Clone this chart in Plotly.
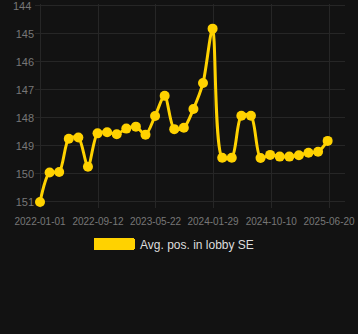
import plotly.graph_objects as go

dates = ["2022-01-01", "2022-02-12", "2022-03-26", "2022-05-07", "2022-06-18", "2022-07-30",
         "2022-09-10", "2022-10-22", "2022-12-03", "2023-01-14", "2023-02-25", "2023-04-08",
         "2023-05-20", "2023-07-01", "2023-08-12", "2023-09-23", "2023-11-04", "2023-12-16",
         "2024-01-27", "2024-03-09", "2024-04-20", "2024-06-01", "2024-07-13", "2024-08-24",
         "2024-10-05", "2024-11-16", "2024-12-28", "2025-02-08", "2025-03-22", "2025-05-03",
         "2025-06-14"]
positions = [151.0, 149.95, 149.93, 148.74, 148.7, 149.74, 148.55, 148.51, 148.58, 148.38,
             148.31, 148.6, 147.93, 147.21, 148.4, 148.35, 147.68, 146.75, 144.81, 149.42,
             149.42, 147.92, 147.92, 149.43, 149.32, 149.38, 149.38, 149.33, 149.24, 149.21,
             148.82]
x_ticks = ["2022-01-01", "2022-09-12", "2023-05-22", "2024-01-29", "2024-10-10", "2025-06-20"]
y_ticks = [144, 145, 146, 147, 148, 149, 150, 151]
series_name = "Avg. pos. in lobby SE"

color = "#FFD200"
W, H = 358, 334
ml, mr, mt, mb = 35, 13, 4, 126
pw, ph = W - ml - mr, H - mt - mb


def px_x(p):
    return (p - ml) / pw


def px_y(p):
    return (H - mb - p) / ph


fig = go.Figure()
fig.add_trace(go.Scatter(
    x=dates, y=positions, mode="lines+markers", showlegend=False,
    line=dict(color=color, width=3, shape="spline", smoothing=0.8),
    marker=dict(color=color, size=10),
))
fig.add_trace(go.Scatter(
    x=[None], y=[None], mode="lines", name=series_name,
    line=dict(color=color, width=12),
))

# widen the legend swatch to match the reference's rectangle
fig.add_shape(type="rect", xref="paper", yref="paper",
              x0=px_x(94), x1=px_x(134), y0=px_y(250), y1=px_y(238),
              fillcolor=color, line=dict(width=0), layer="above")

# top tick label sits at the very edge of the page, where plotly would hide it
fig.add_annotation(text=str(y_ticks[0]), xref="paper", x=0, yref="y", y=y_ticks[0],
                   xanchor="right", yanchor="middle", xshift=-2, showarrow=False,
                   font=dict(size=11, color="#777777"))

fig.update_layout(
    width=W, height=H,
    paper_bgcolor="#121212", plot_bgcolor="#121212",
    margin=dict(l=ml, r=mr, t=mt, b=mb),
    font=dict(family="Arial, Liberation Sans, sans-serif", color="#777777", size=11),
    xaxis=dict(
        type="date", range=["2021-12-10", "2025-08-29"],
        tickvals=x_ticks, ticktext=x_ticks, automargin=False,
        showgrid=True, gridcolor="#262626", gridwidth=1,
        zeroline=False, showline=False,
        ticks="outside", ticklen=4, tickcolor="rgba(0,0,0,0)",
        tickfont=dict(size=10, color="#777777"),
    ),
    yaxis=dict(
        range=[151.216, 143.93], tickvals=y_ticks, automargin=False,
        showgrid=True, gridcolor="#262626", gridwidth=1,
        zeroline=False, showline=False, ticks="",
        tickfont=dict(size=11, color="#777777"),
    ),
    legend=dict(
        orientation="h", x=px_x(100), xanchor="left", y=px_y(244), yanchor="middle",
        font=dict(size=12, color="#dddddd"), bgcolor="rgba(0,0,0,0)",
    ),
)

fig.write_html("out.html")
